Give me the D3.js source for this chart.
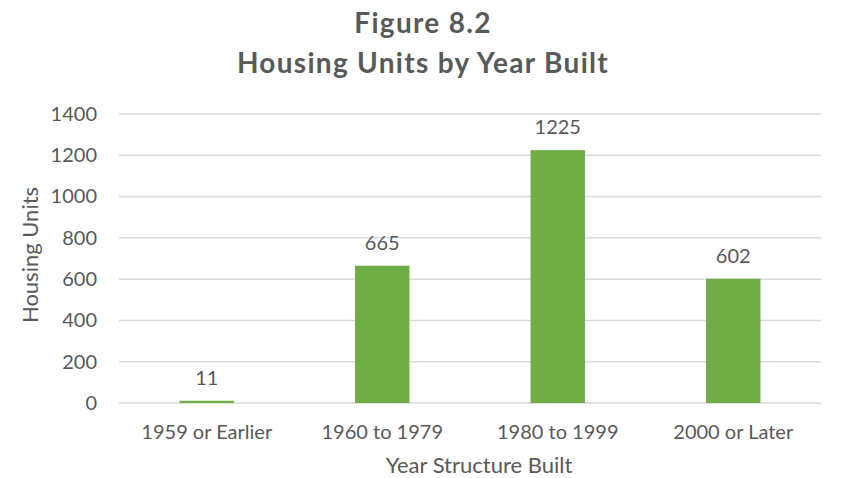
<!DOCTYPE html>
<html>
<head>
<meta charset="utf-8">
<script src="https://cdnjs.cloudflare.com/ajax/libs/d3/7.8.5/d3.min.js"></script>
<style>
  body { margin: 0; background: #fff; }
  text { font-family: Lato, "Open Sans", sans-serif; fill: #595959; }
</style>
</head>
<body>
<div id="chart"></div>
<script>
// data
var categories = ["1959 or Earlier", "1960 to 1979", "1980 to 1999", "2000 or Later"];
var units = [11, 665, 1225, 602];
var yTicks = [0, 200, 400, 600, 800, 1000, 1200, 1400];
var titleLines = ["Figure 8.2", "Housing Units by Year Built"];

var width = 846, height = 478;
var margin = { top: 114, right: 25, bottom: 75, left: 119 };

var svg = d3.select("#chart").append("svg")
  .attr("width", width)
  .attr("height", height);

var x = d3.scaleBand()
  .domain(categories)
  .range([margin.left, width - margin.right])
  .paddingInner(0.69)
  .paddingOuter(0.345);

var y = d3.scaleLinear()
  .domain([0, 1400])
  .range([height - margin.bottom, margin.top]);

// gridlines
svg.append("g")
  .selectAll("line")
  .data(yTicks)
  .enter().append("line")
  .attr("x1", margin.left)
  .attr("x2", width - margin.right)
  .attr("y1", function (d) { return y(d); })
  .attr("y2", function (d) { return y(d); })
  .style("stroke", "#d9d9d9")
  .style("stroke-width", 1.5);

// y axis labels
var yAxis = d3.axisLeft(y).tickValues(yTicks).tickSize(0).tickPadding(22).tickFormat(d3.format("d"));
var gy = svg.append("g")
  .attr("transform", "translate(" + margin.left + ",0)")
  .call(yAxis);
gy.select(".domain").remove();
gy.selectAll("text").style("font-size", "20px").style("fill", "#595959");

// x axis labels
var xAxis = d3.axisBottom(x).tickSize(0).tickPadding(22);
var gx = svg.append("g")
  .attr("transform", "translate(0," + (height - margin.bottom) + ")")
  .call(xAxis);
gx.select(".domain").remove();
gx.selectAll("text").style("font-size", "20px").style("fill", "#595959");

// bars
svg.append("g")
  .selectAll("rect")
  .data(units)
  .enter().append("rect")
  .attr("x", function (d, i) { return x(categories[i]); })
  .attr("width", x.bandwidth())
  .attr("y", function (d) { return y(d); })
  .attr("height", function (d) { return y(0) - y(d); })
  .style("fill", "#70ad47");

// value labels
svg.append("g")
  .selectAll("text")
  .data(units)
  .enter().append("text")
  .attr("x", function (d, i) { return x(categories[i]) + x.bandwidth() / 2; })
  .attr("y", function (d) { return y(d) - 16; })
  .attr("text-anchor", "middle")
  .style("font-size", "20px")
  .text(function (d) { return d; });

// title
svg.append("g")
  .selectAll("text")
  .data(titleLines)
  .enter().append("text")
  .attr("x", width / 2)
  .attr("y", function (d, i) { return 33 + i * 40; })
  .attr("text-anchor", "middle")
  .style("font-size", "28px")
  .style("font-weight", "bold")
  .style("letter-spacing", "1.3px")
  .text(function (d) { return d; });

// axis titles
svg.append("text")
  .attr("x", 479)
  .attr("y", 473)
  .attr("text-anchor", "middle")
  .style("font-size", "22px")
  .text("Year Structure Built");

svg.append("text")
  .attr("transform", "translate(38,255) rotate(-90)")
  .attr("text-anchor", "middle")
  .style("font-size", "22px")
  .text("Housing Units");
</script>
</body>
</html>
